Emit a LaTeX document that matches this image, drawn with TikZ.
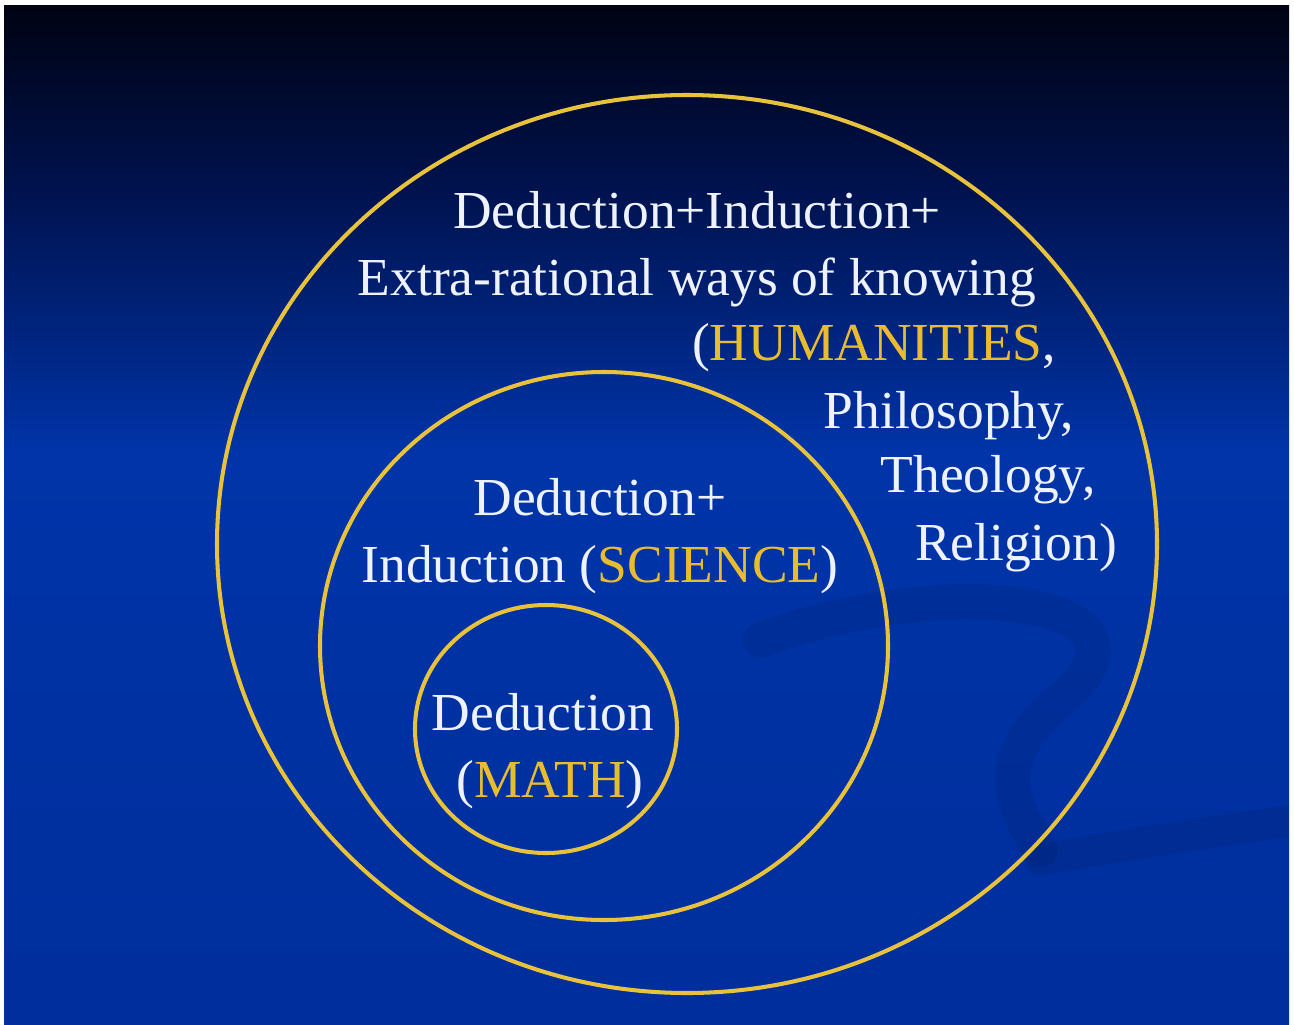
\documentclass[tikz,border=0pt]{standalone}
\usepackage{fontspec}
\setmainfont{Liberation Serif}
\definecolor{bgtop}{HTML}{000312}
\definecolor{bgmid}{HTML}{00124E}
\definecolor{bgblue}{HTML}{0034A8}
\definecolor{bglow}{HTML}{002E9C}
\definecolor{ringgold}{HTML}{E8C23A}
\definecolor{wordgold}{HTML}{E9BC2E}
\definecolor{wordwhite}{HTML}{EEF2FF}
\pgfdeclareverticalshading{slidebg}{100bp}{color(0bp)=(bglow); color(25bp)=(bglow); color(53bp)=(bgblue); color(66bp)=(bgmid); color(75bp)=(bgtop); color(100bp)=(bgtop)}
\tikzset{
  ring/.style={draw=ringgold,line width=1.15pt},
  words/.style={text=wordwhite,anchor=base,inner sep=0pt,font=\fontsize{15.2}{19}\selectfont}
}
\newcommand{\gold}[1]{\textcolor{wordgold}{#1}}
\begin{document}
\begin{tikzpicture}[x=0.01cm,y=-0.01cm]
\useasboundingbox (0,0) rectangle (1294,1024);
\fill[white] (0,0) rectangle (1294,1024);
\shade[shading=slidebg] (4,5) rectangle (1289,1024);
% faint swoosh in the background
\begin{scope}
\clip (4,5) rectangle (1289,1024);
\draw[black,opacity=0.07,line width=10pt,line cap=round] (760,640) .. controls (950,570) and (1180,600) .. (1060,700) .. controls (990,760) and (1010,800) .. (1040,850);
\draw[black,opacity=0.07,line width=9pt,line cap=round] (1040,860) .. controls (1150,840) and (1230,830) .. (1294,820);
\end{scope}
% the three rings
\draw[ring] (687,544) ellipse [x radius=470,y radius=449];
\draw[ring] (604,646) ellipse [x radius=284,y radius=274];
\draw[ring] (546,729) ellipse [x radius=131,y radius=124];
% outer ring text
\node[words] (hum1) at (697,228) {Deduction+Induction+};
\node[words] (hum2) at (697,295) {Extra-rational ways of knowing};
\foreach \nm/\xx/\yy/\txt in {hum3/874/360/{(\gold{HUMANITIES},},phil/949/428/{Philosophy,},theo/988/492/{Theology,},reli/1016/560/{Religion)}}
  \node[words] (\nm) at (\xx,\yy) {\txt};
% middle ring text
\node[words] (sci1) at (600,515) {Deduction+};
\node[words] (sci2) at (600,582) {Induction (\gold{SCIENCE})};
% inner ring text
\node[words] (math1) at (543,730) {Deduction};
\node[words] (math2) at (550,797) {(\gold{MATH})};
\end{tikzpicture}
\end{document}
